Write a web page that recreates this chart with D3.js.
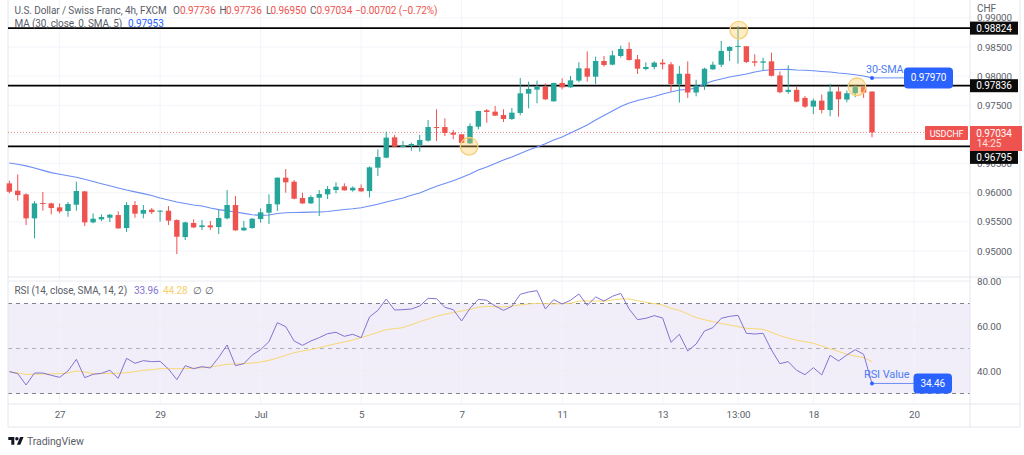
<!DOCTYPE html>
<html>
<head>
<meta charset="utf-8">
<title>USDCHF 4h</title>
<script src="https://cdnjs.cloudflare.com/ajax/libs/d3/7.8.5/d3.min.js"></script>
<style>
  html, body { margin: 0; padding: 0; background: #fff; }
  svg { display: block; }
  text { font-family: Roboto, "Liberation Sans", sans-serif; letter-spacing: -0.1px; }
</style>
</head>
<body>
<svg id="chart" width="1024" height="455"></svg>
<script>
// 4h candles
const opens = [
  0.96160,0.96035,0.95972,0.95560,0.95823,0.95817,0.95749,0.95686,0.95794,0.96023,
  0.95491,0.95543,0.95571,0.95617,0.95394,0.95789,0.95640,0.95709,0.95674,0.95691,
  0.95531,0.95239,0.95480,0.95411,0.95440,0.95411,0.95560,0.95789,0.95354,0.95394,
  0.95548,0.95657,0.95800,0.96258,0.96189,0.95909,0.95817,0.95914,0.95972,0.96046,
  0.96109,0.96040,0.96081,0.96029,0.96429,0.96601,0.96950,0.96784,0.96807,0.96819,
  0.96893,0.97127,0.97127,0.97030,0.97002,0.96847,0.97133,0.97413,0.97391,0.97333,
  0.97265,0.97368,0.97699,0.97768,0.97814,0.97568,0.97883,0.97808,0.97923,0.98134,
  0.97991,0.98260,0.98197,0.98346,0.98466,0.98289,0.98123,0.98157,0.98231,0.98203,
  0.97857,0.98041,0.97719,0.97839,0.98116,0.98196,0.98433,0.98502,0.98513,0.98254,
  0.98231,0.98254,0.98012,0.97730,0.97765,0.97626,0.97477,0.97580,0.97419,0.97736,
  0.97598,0.97707,0.97811,0.97736
];
const highs = [
  0.96206,0.96315,0.95989,0.95857,0.96012,0.95829,0.95817,0.95840,0.96189,0.96029,
  0.95646,0.95628,0.95634,0.95680,0.95840,0.95857,0.95789,0.95737,0.95703,0.95771,
  0.95543,0.95503,0.95543,0.95531,0.95514,0.95714,0.96046,0.95943,0.95514,0.95566,
  0.95731,0.95972,0.96263,0.96406,0.96218,0.96000,0.95954,0.96046,0.96115,0.96178,
  0.96161,0.96109,0.96143,0.96452,0.96744,0.97048,0.96990,0.96887,0.96859,0.96990,
  0.97248,0.97431,0.97276,0.97076,0.97002,0.97190,0.97408,0.97436,0.97488,0.97431,
  0.97454,0.97968,0.97905,0.97923,0.97877,0.97888,0.97963,0.98003,0.98237,0.98426,
  0.98334,0.98346,0.98437,0.98523,0.98580,0.98363,0.98237,0.98254,0.98294,0.98243,
  0.98173,0.98254,0.97937,0.98145,0.98248,0.98605,0.98513,0.98859,0.98513,0.98375,
  0.98317,0.98404,0.98081,0.98185,0.97822,0.97661,0.97615,0.97684,0.97868,0.97822,
  0.97753,0.97839,0.97834,0.97736
];
const lows = [
  0.95989,0.95863,0.95445,0.95217,0.95691,0.95628,0.95646,0.95588,0.95691,0.95428,
  0.95474,0.95514,0.95497,0.95382,0.95325,0.95571,0.95560,0.95634,0.95503,0.95445,
  0.94948,0.95188,0.95394,0.95360,0.95360,0.95291,0.95543,0.95348,0.95342,0.95382,
  0.95485,0.95463,0.95686,0.96000,0.95886,0.95806,0.95806,0.95600,0.95892,0.95989,
  0.96035,0.96018,0.96018,0.95920,0.96286,0.96590,0.96784,0.96779,0.96721,0.96704,
  0.96876,0.96887,0.96973,0.96916,0.96847,0.96836,0.97087,0.97202,0.97316,0.97213,
  0.97248,0.97328,0.97448,0.97534,0.97591,0.97562,0.97774,0.97802,0.97894,0.97905,
  0.97865,0.98163,0.98186,0.98317,0.98266,0.98037,0.98100,0.98117,0.98117,0.97734,
  0.97546,0.97626,0.97655,0.97765,0.98110,0.98156,0.98260,0.98214,0.98225,0.98168,
  0.98099,0.97995,0.97707,0.97695,0.97552,0.97454,0.97350,0.97362,0.97310,0.97304,
  0.97552,0.97638,0.97626,0.96950
];
const closes = [
  0.96017,0.95960,0.95560,0.95817,0.95806,0.95737,0.95680,0.95806,0.96029,0.95491,
  0.95554,0.95583,0.95623,0.95388,0.95789,0.95640,0.95703,0.95668,0.95691,0.95520,
  0.95245,0.95491,0.95405,0.95440,0.95405,0.95566,0.95789,0.95354,0.95400,0.95554,
  0.95663,0.95806,0.96258,0.96178,0.95897,0.95817,0.95926,0.95977,0.96063,0.96103,
  0.96041,0.96086,0.96023,0.96435,0.96612,0.96945,0.96790,0.96807,0.96836,0.96904,
  0.97127,0.97110,0.97025,0.96996,0.96853,0.97145,0.97402,0.97385,0.97322,0.97265,
  0.97373,0.97705,0.97780,0.97820,0.97602,0.97883,0.97808,0.97928,0.98134,0.97991,
  0.98260,0.98191,0.98357,0.98466,0.98277,0.98128,0.98157,0.98231,0.98203,0.97865,
  0.98041,0.97719,0.97839,0.98127,0.98196,0.98433,0.98502,0.98519,0.98243,0.98231,
  0.98254,0.98006,0.97724,0.97765,0.97563,0.97477,0.97580,0.97419,0.97736,0.97603,
  0.97707,0.97811,0.97719,0.97034
];
// 30 SMA on the price pane
const maValues = [
  0.96510,0.96487,0.96461,0.96424,0.96383,0.96345,0.96316,0.96290,0.96266,0.96230,
  0.96192,0.96154,0.96118,0.96082,0.96046,0.96015,0.95984,0.95953,0.95909,0.95875,
  0.95840,0.95815,0.95789,0.95772,0.95737,0.95710,0.95689,0.95669,0.95645,0.95622,
  0.95612,0.95617,0.95643,0.95655,0.95660,0.95663,0.95667,0.95669,0.95677,0.95695,
  0.95712,0.95725,0.95743,0.95772,0.95801,0.95840,0.95875,0.95909,0.95955,0.95995,
  0.96055,0.96110,0.96158,0.96206,0.96261,0.96321,0.96390,0.96441,0.96501,0.96561,
  0.96613,0.96673,0.96733,0.96784,0.96841,0.96905,0.96956,0.97024,0.97093,0.97162,
  0.97247,0.97325,0.97402,0.97479,0.97539,0.97582,0.97616,0.97650,0.97693,0.97728,
  0.97762,0.97771,0.97797,0.97865,0.97917,0.97951,0.97985,0.98011,0.98037,0.98071,
  0.98097,0.98110,0.98114,0.98116,0.98105,0.98100,0.98092,0.98080,0.98071,0.98054,
  0.98042,0.98023,0.98003,0.97970
];
const rsiValues = [
  39.71,38.82,33.78,39.11,39.11,38.08,37.19,40.00,45.19,37.04,
  38.52,38.97,40.30,36.74,45.63,43.41,44.60,44.15,44.30,40.89,
  36.15,42.37,41.04,41.93,41.34,46.08,51.56,42.37,43.26,47.11,
  49.48,53.04,61.48,59.71,53.34,51.41,53.34,54.82,56.60,57.19,
  55.41,56.30,54.82,64.00,66.97,72.00,67.11,67.26,67.56,68.89,
  72.30,72.15,68.30,67.26,62.23,67.86,71.86,71.41,68.89,66.97,
  68.74,74.08,75.11,75.71,67.56,71.71,69.78,71.41,74.23,69.19,
  72.89,71.11,73.19,74.52,67.56,62.82,63.41,64.60,63.56,52.74,
  56.30,48.89,52.00,57.78,59.26,63.41,64.30,64.74,56.74,56.45,
  56.74,49.34,43.26,44.15,40.30,38.37,41.48,38.23,46.97,44.45,
  47.11,49.48,47.41,34.46
];
const rsiSmaValues = [
  39.71,39.11,38.52,38.52,38.67,38.67,38.82,39.11,40.00,39.56,
  38.82,38.82,38.97,38.97,39.26,39.71,40.30,40.60,41.04,41.04,
  41.04,41.04,41.19,41.48,41.78,42.37,42.97,43.11,43.26,43.56,
  44.00,44.74,45.78,46.97,48.15,48.89,49.48,50.37,51.26,52.15,
  52.89,53.78,54.82,56.00,57.19,58.37,58.82,59.26,60.60,61.93,
  63.11,64.30,65.19,65.93,66.67,67.41,68.30,68.74,68.60,68.45,
  68.89,69.34,69.78,70.08,69.93,69.78,69.93,70.08,71.11,71.11,
  71.11,70.97,71.56,72.00,72.00,71.26,70.52,69.93,69.34,67.86,
  66.97,65.34,63.71,62.82,61.93,61.19,60.45,59.71,58.97,58.82,
  58.52,57.19,55.71,54.67,53.63,53.04,52.30,51.11,49.93,48.74,
  47.41,46.67,45.93,44.15
];

// axes
const timeTickIndex = [6, 18, 30, 42, 54, 66, 78, 87, 96, 108];
const timeTickLabels = ["27", "29", "Jul", "5", "7", "11", "13", "13:00", "18", "20"];
const priceTicks = [0.95, 0.955, 0.96, 0.965, 0.97, 0.975, 0.98, 0.985, 0.99];
const rsiTicks = [40, 60, 80];
const rsiBands = [70, 50, 30];

// drawn levels and markers
const levels = [0.98824, 0.97836, 0.96795];
const levelLabelShift = [0, 0, 11];
const lastPrice = 0.97034;
const circleIndex = [54.9, 87.1, 101.2];
const circlePrice = [0.96796, 0.98790, 0.97817];

const GREEN = "#26a69a", RED = "#ef5350", BLUE = "#2962ff";
const TEXT_GREY = "#5b5e69", GRID = "#f2f4f9", BORDER = "#e4e6ec";
const RSI_COLOR = "#8273d3", RSI_SMA_COLOR = "#f8d772";

const svg = d3.select("#chart");
const left = 8, right = 970, outerRight = 1020;
const paneSplit = 277, rsiBottom = 404, timeBottom = 427;

const x = d3.scaleLinear().domain([0, 103]).range([9.35, 872]);
const y = d3.scaleLinear().domain([0.95, 0.985]).range([251, 47]);
const yRsi = d3.scaleLinear().domain([30, 80]).range([393.5, 281]);

// grid
const grid = svg.append("g").attr("stroke", GRID).attr("stroke-width", 1);
grid.selectAll(".v").data(timeTickIndex).join("line")
  .attr("x1", d => x(d)).attr("x2", d => x(d)).attr("y1", 0).attr("y2", rsiBottom);
grid.selectAll(".h").data(priceTicks).join("line")
  .attr("x1", left).attr("x2", right).attr("y1", d => y(d)).attr("y2", d => y(d));

// rsi background
svg.append("rect")
  .attr("x", left).attr("width", right - left)
  .attr("y", yRsi(70)).attr("height", yRsi(30) - yRsi(70))
  .attr("fill", "#f2eef9");
grid.raise();
grid.selectAll(".r").data(rsiTicks).join("line")
  .attr("x1", left).attr("x2", right).attr("y1", d => yRsi(d)).attr("y2", d => yRsi(d))
  .attr("stroke", "#ececf3");
svg.selectAll(".band").data(rsiBands).join("line")
  .attr("x1", left).attr("x2", right).attr("y1", d => yRsi(d)).attr("y2", d => yRsi(d))
  .attr("stroke", "#787b86").attr("stroke-dasharray", "4 4")
  .attr("stroke-opacity", d => d === 50 ? 0.55 : 0.95);

// frame
const frame = [
  [left, 0, left, timeBottom], [right, 0, right, timeBottom], [outerRight, 0, outerRight, timeBottom],
  [left, paneSplit, outerRight, paneSplit], [left, rsiBottom, outerRight, rsiBottom],
  [left, timeBottom, outerRight, timeBottom]
];
svg.selectAll(".frame").data(frame).join("line")
  .attr("x1", d => d[0]).attr("y1", d => d[1]).attr("x2", d => d[2]).attr("y2", d => d[3])
  .attr("stroke", BORDER);

// axes
const priceAxis = svg.append("g").attr("transform", `translate(${right},0)`)
  .call(d3.axisRight(y).tickValues(priceTicks).tickFormat(d3.format(".5f")).tickSize(0).tickPadding(7));
const rsiAxis = svg.append("g").attr("transform", `translate(${right},0)`)
  .call(d3.axisRight(yRsi).tickValues(rsiTicks).tickFormat(d3.format(".2f")).tickSize(0).tickPadding(7));
const timeAxis = svg.append("g").attr("transform", `translate(0,${rsiBottom})`)
  .call(d3.axisBottom(x).tickValues(timeTickIndex)
    .tickFormat((d, i) => timeTickLabels[i]).tickSize(0).tickPadding(7));
[priceAxis, rsiAxis, timeAxis].forEach(a => {
  a.select(".domain").remove();
  a.selectAll("text").attr("fill", TEXT_GREY).style("font-size", "9.8px")
    .style("font-family", "Roboto, sans-serif");
});

// black levels and last price line
svg.selectAll(".level").data(levels).join("line")
  .attr("x1", left).attr("x2", right).attr("y1", d => y(d)).attr("y2", d => y(d))
  .attr("stroke", "#000").attr("stroke-width", 1.7);
svg.append("line")
  .attr("x1", left).attr("x2", 925).attr("y1", y(lastPrice)).attr("y2", y(lastPrice))
  .attr("stroke", RED).attr("stroke-opacity", 0.7).attr("stroke-dasharray", "1 2");

// moving average
const line = d3.line().x((d, i) => x(i));
svg.append("path")
  .attr("d", line.y(d => y(d))(maValues))
  .attr("fill", "none").attr("stroke", "#6c8ef5").attr("stroke-width", 1.1);

// candles
const candles = svg.append("g").selectAll("g").data(opens).join("g")
  .attr("fill", (d, i) => closes[i] >= d ? GREEN : RED)
  .attr("stroke", (d, i) => closes[i] >= d ? GREEN : RED);
candles.append("line")
  .attr("x1", (d, i) => x(i)).attr("x2", (d, i) => x(i))
  .attr("y1", (d, i) => y(highs[i])).attr("y2", (d, i) => y(lows[i]));
candles.append("rect")
  .attr("stroke", "none")
  .attr("x", (d, i) => x(i) - 2.7).attr("width", 5.4)
  .attr("y", (d, i) => y(Math.max(d, closes[i])))
  .attr("height", (d, i) => Math.max(1, Math.abs(y(d) - y(closes[i]))));

// yellow circles
svg.selectAll(".mark").data(circleIndex).join("circle")
  .attr("cx", d => x(d)).attr("cy", (d, i) => y(circlePrice[i])).attr("r", 8.8)
  .attr("fill", "#fbc85a").attr("fill-opacity", 0.35)
  .attr("stroke", "#f6cf7a").attr("stroke-width", 1.3);

// rsi lines
svg.append("path")
  .attr("d", line.y(d => yRsi(d))(rsiSmaValues))
  .attr("fill", "none").attr("stroke", RSI_SMA_COLOR).attr("stroke-width", 1);
svg.append("path")
  .attr("d", line.y(d => yRsi(d))(rsiValues))
  .attr("fill", "none").attr("stroke", RSI_COLOR).attr("stroke-width", 1);

// price tags on the axis
function tag(tx, ty, w, h, fill, label, rx, size) {
  svg.append("rect").attr("x", tx).attr("y", ty).attr("width", w).attr("height", h)
    .attr("rx", rx || 0).attr("fill", fill);
  svg.append("text").attr("x", tx + w / 2).attr("y", ty + h / 2 + 3.5)
    .attr("text-anchor", "middle").attr("fill", "#fff")
    .attr("font-size", size || 10).text(label);
}
levels.forEach((d, i) => {
  tag(right, y(d) - 6.5 + levelLabelShift[i], 48, 13, "#0b0b0b", d.toFixed(5));
});
svg.append("rect").attr("x", right).attr("y", 126).attr("width", 52).attr("height", 25).attr("fill", RED);
svg.append("text").attr("x", 994).attr("y", 136.5).attr("text-anchor", "middle").attr("fill", "#fff")
  .attr("font-size", 10).text(lastPrice.toFixed(5));
svg.append("text").attr("x", 989).attr("y", 147).attr("text-anchor", "middle").attr("fill", "#fde0df")
  .attr("font-size", 10).text("14:25");
tag(925, 126, 43, 14, RED, "USDCHF", 1, 9);

// 30-SMA callout
const maEnd = maValues[maValues.length - 1];
svg.append("line").attr("x1", x(103)).attr("x2", 906).attr("y1", y(maEnd)).attr("y2", y(maEnd))
  .attr("stroke", "#6c8ef5");
svg.append("circle").attr("cx", x(103)).attr("cy", y(maEnd)).attr("r", 2).attr("fill", BLUE);
svg.append("text").attr("x", 866).attr("y", 72.5).attr("fill", "#4f7df5").attr("font-size", 10.8).text("30-SMA");
tag(904, y(maEnd) - 10.5, 49, 21, BLUE, maEnd.toFixed(5), 4);

// RSI value callout
const rsiEnd = rsiValues[rsiValues.length - 1];
svg.append("line").attr("x1", x(103)).attr("x2", 914).attr("y1", yRsi(rsiEnd)).attr("y2", yRsi(rsiEnd))
  .attr("stroke", "#6c8ef5");
svg.append("circle").attr("cx", x(103)).attr("cy", yRsi(rsiEnd)).attr("r", 2).attr("fill", BLUE);
svg.append("text").attr("x", 864).attr("y", 378).attr("fill", "#4f7df5").attr("font-size", 11).text("RSI Value");
tag(913.5, yRsi(rsiEnd) - 10, 38.5, 20, BLUE, rsiEnd.toFixed(2), 4);

// legends
function legend(ty, parts) {
  parts.forEach(p => {
    svg.append("text").attr("x", p[0]).attr("y", ty).attr("fill", p[2] || TEXT_GREY)
      .attr("font-size", 10).text(p[1]);
  });
}
const HEADER_RED = "#ef5350";
svg.append("text").attr("x", 977).attr("y", 12).attr("fill", TEXT_GREY).attr("font-size", 10).text("CHF");
legend(13.5, [
  [14.5, "U.S. Dollar / Swiss Franc, 4h, FXCM"],
  [173, "O"], [180, "0.97736", HEADER_RED],
  [219.5, "H"], [226, "0.97736", HEADER_RED],
  [266, "L"], [270.5, "0.96950", HEADER_RED],
  [310, "C"], [316.5, "0.97034", HEADER_RED],
  [355, "−0.00702 (−0.72%)", HEADER_RED]
]);
legend(26.5, [[14.5, "MA (30, close, 0, SMA, 5)"], [128, "0.97953", BLUE]]);
legend(293.5, [
  [14.5, "RSI (14, close, SMA, 14, 2)"], [134, "33.96", RSI_COLOR], [163, "44.28", "#f6cf6a"],
  [193, "∅"], [205, "∅"]
]);

// logo
const logo = svg.append("g").attr("transform", "translate(8.3,435.3) scale(0.43)").attr("fill", "#131722");
logo.append("path").attr("d", "M14 22H7V11H0V4h14v18zM28 22h-8l7.5-18h8L28 22z");
logo.append("circle").attr("cx", 20).attr("cy", 8).attr("r", 4);
svg.append("text").attr("x", 27).attr("y", 445).attr("fill", TEXT_GREY).attr("font-size", 10.5).text("TradingView");
</script>
</body>
</html>
